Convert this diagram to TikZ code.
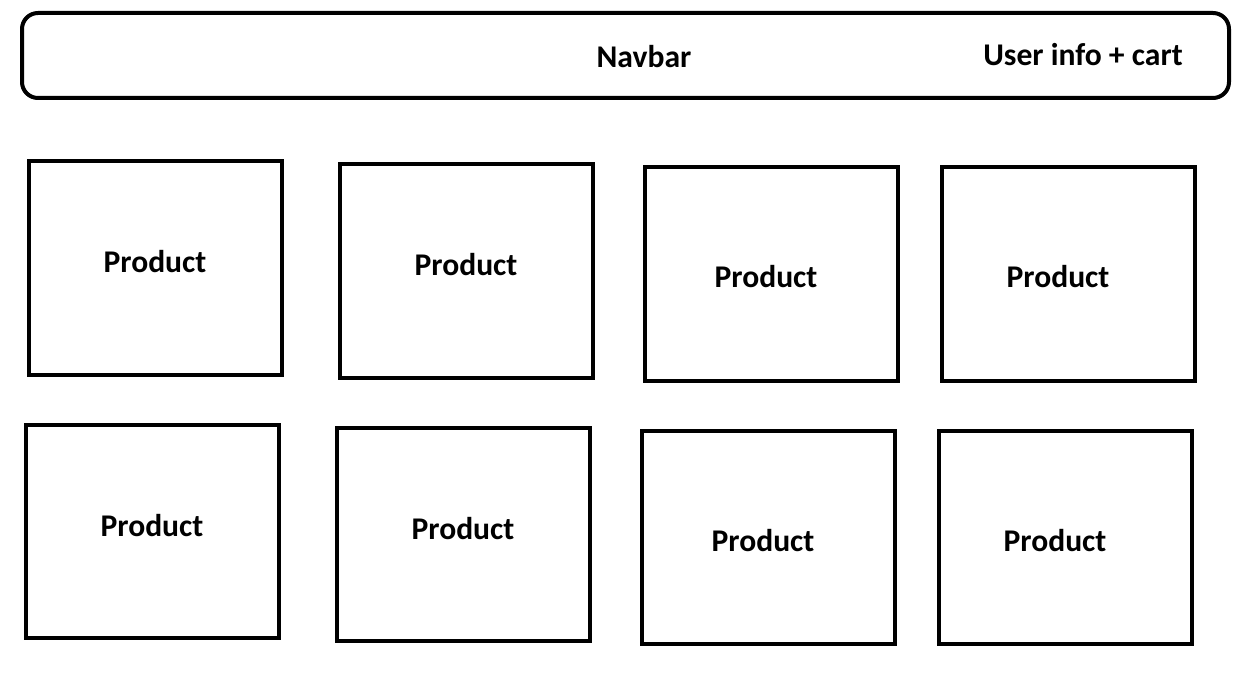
\documentclass[tikz,border=0pt]{standalone}
\usepackage{fontspec}
\setmainfont{Carlito}
\begin{document}
\begin{tikzpicture}[x=1pt,y=-1pt,
  box/.style={draw=black,line width=4pt,fill=white},
  lbl/.style={font=\fontsize{31.6}{36}\selectfont\bfseries,inner sep=0pt}]
\useasboundingbox[fill=white] (0,0) rectangle (1254,698);
\draw[box,rounded corners=16pt] (22,13) rectangle (1229,98);
\node[lbl] (nav) at (644,57) {Navbar};
\node[lbl] (user) at (1083,55) {User info + cart};
% row 1
\draw[box] (29,161) rectangle (282,375);
\node[lbl] (p1) at (155,262) {Product};
\draw[box] (340,164) rectangle (593,378);
\node[lbl] (p2) at (466,265) {Product};
\draw[box] (645,167) rectangle (898,381);
\node[lbl] (p3) at (766,277) {Product};
\draw[box] (942,167) rectangle (1195,381);
\node[lbl] (p4) at (1058,277) {Product};
% row 2
\draw[box] (26,425) rectangle (279,638);
\node[lbl] (p5) at (152,526) {Product};
\draw[box] (337,428) rectangle (590,641);
\node[lbl] (p6) at (463,529) {Product};
\draw[box] (642,431) rectangle (895,644);
\node[lbl] (p7) at (763,541) {Product};
\draw[box] (939,431) rectangle (1192,644);
\node[lbl] (p8) at (1055,541) {Product};
\end{tikzpicture}
\end{document}
